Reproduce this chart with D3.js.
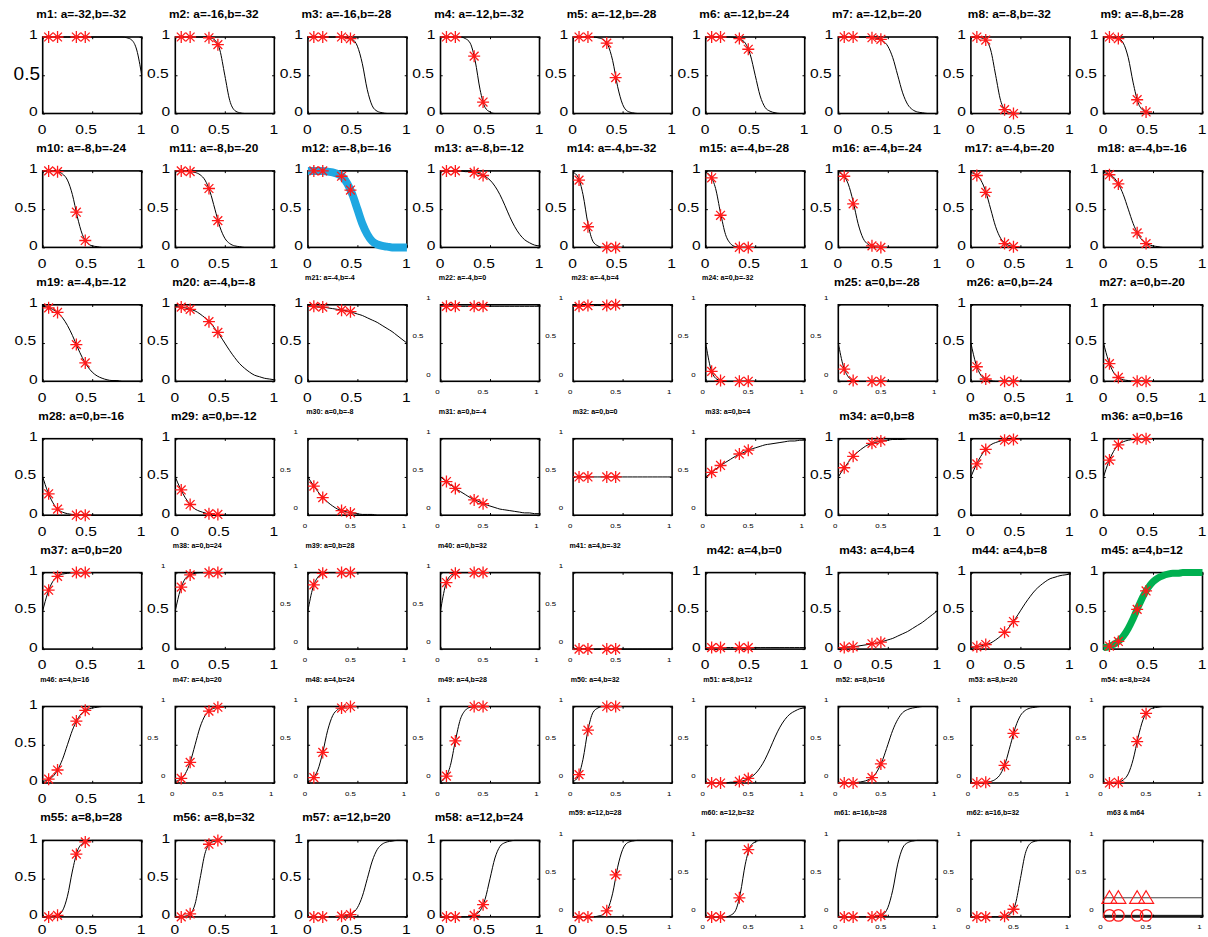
<!DOCTYPE html>
<html>
<head>
<meta charset="utf-8">
<script src="https://cdn.jsdelivr.net/npm/d3@7"></script>
<style>
  body { margin: 0; background: #fff; }
  svg { display: block; }
  text { font-family: "Liberation Sans", Arial, Helvetica, sans-serif; fill: #000; }
</style>
</head>
<body>
<svg id="chart" width="1208" height="937"></svg>
<script>
// ---- panel titles (model name and parameters) ----
const titles = [
  "m1: a=-32,b=-32","m2: a=-16,b=-32","m3: a=-16,b=-28","m4: a=-12,b=-32","m5: a=-12,b=-28","m6: a=-12,b=-24","m7: a=-12,b=-20","m8: a=-8,b=-32","m9: a=-8,b=-28",
  "m10: a=-8,b=-24","m11: a=-8,b=-20","m12: a=-8,b=-16","m13: a=-8,b=-12","m14: a=-4,b=-32","m15: a=-4,b=-28","m16: a=-4,b=-24","m17: a=-4,b=-20","m18: a=-4,b=-16",
  "m19: a=-4,b=-12","m20: a=-4,b=-8","m21: a=-4,b=-4","m22: a=-4,b=0","m23: a=-4,b=4","m24: a=0,b=-32","m25: a=0,b=-28","m26: a=0,b=-24","m27: a=0,b=-20",
  "m28: a=0,b=-16","m29: a=0,b=-12","m30: a=0,b=-8","m31: a=0,b=-4","m32: a=0,b=0","m33: a=0,b=4","m34: a=0,b=8","m35: a=0,b=12","m36: a=0,b=16",
  "m37: a=0,b=20","m38: a=0,b=24","m39: a=0,b=28","m40: a=0,b=32","m41: a=4,b=-32","m42: a=4,b=0","m43: a=4,b=4","m44: a=4,b=8","m45: a=4,b=12",
  "m46: a=4,b=16","m47: a=4,b=20","m48: a=4,b=24","m49: a=4,b=28","m50: a=4,b=32","m51: a=8,b=12","m52: a=8,b=16","m53: a=8,b=20","m54: a=8,b=24",
  "m55: a=8,b=28","m56: a=8,b=32","m57: a=12,b=20","m58: a=12,b=24","m59: a=12,b=28","m60: a=12,b=32","m61: a=16,b=28","m62: a=16,b=32","m63 & m64"
];

// ---- x positions where each curve is sampled ----
const gridX = [0,.05,.1,.15,.2,.25,.3,.35,.4,.45,.5,.55,.6,.65,.7,.75,.8,.85,.9,.95,1];

// ---- curve heights at gridX, one row per model m1..m62 ----
const curveY = [
  [1,1,1,1,1,1,1,1,1,1,1,1,1,1,1,1,1,.99,.96,.83,.5],
  [1,1,1,1,1,1,1,.99,.96,.83,.5,.17,.04,.01,0,0,0,0,0,0,0],
  [1,1,1,1,1,1,1,1,.99,.97,.88,.65,.31,.10,.03,.01,0,0,0,0,0],
  [1,1,1,1,1,.98,.92,.69,.31,.08,.02,0,0,0,0,0,0,0,0,0,0],
  [1,1,1,1,1,.99,.97,.90,.69,.35,.12,.03,.01,0,0,0,0,0,0,0,0],
  [1,1,1,1,1,1,.99,.97,.92,.77,.5,.23,.08,.03,.01,0,0,0,0,0,0],
  [1,1,1,1,1,1,1,.99,.98,.95,.88,.73,.5,.27,.12,.05,.02,.01,0,0,0],
  [1,1,.99,.96,.83,.5,.17,.04,.01,0,0,0,0,0,0,0,0,0,0,0,0],
  [1,1,.99,.98,.92,.73,.40,.14,.04,.01,0,0,0,0,0,0,0,0,0,0,0],
  [1,1,1,.99,.96,.88,.69,.40,.17,.06,.02,.01,0,0,0,0,0,0,0,0,0],
  [1,1,1,.99,.98,.95,.88,.73,.5,.27,.12,.05,.02,.01,0,0,0,0,0,0,0],
  [1,1,1,1,.99,.98,.96,.92,.83,.69,.5,.31,.17,.08,.04,.02,.01,0,0,0,0],
  [1,1,1,1,1,.99,.99,.98,.96,.93,.88,.80,.69,.55,.40,.27,.17,.10,.06,.03,.02],
  [.98,.92,.69,.31,.08,.02,0,0,0,0,0,0,0,0,0,0,0,0,0,0,0],
  [.98,.93,.77,.45,.17,.05,.01,0,0,0,0,0,0,0,0,0,0,0,0,0,0],
  [.98,.94,.83,.60,.31,.12,.04,.01,0,0,0,0,0,0,0,0,0,0,0,0,0],
  [.98,.95,.88,.73,.5,.27,.12,.05,.02,.01,0,0,0,0,0,0,0,0,0,0,0],
  [.98,.96,.92,.83,.69,.5,.31,.17,.08,.04,.02,.01,0,0,0,0,0,0,0,0,0],
  [.98,.97,.94,.90,.83,.73,.60,.45,.31,.20,.12,.07,.04,.02,.01,.01,0,0,0,0,0],
  [.98,.97,.96,.94,.92,.88,.83,.77,.69,.60,.5,.40,.31,.23,.17,.12,.08,.06,.04,.03,.02],
  [.98,.98,.97,.97,.96,.95,.94,.93,.92,.90,.88,.86,.83,.80,.77,.73,.69,.65,.60,.55,.5],
  [.98,.98,.98,.98,.98,.98,.98,.98,.98,.98,.98,.98,.98,.98,.98,.98,.98,.98,.98,.98,.98],
  [.98,.99,.99,.99,.99,.99,.99,1,1,1,1,1,1,1,1,1,1,1,1,1,1],
  [.5,.17,.04,.01,0,0,0,0,0,0,0,0,0,0,0,0,0,0,0,0,0],
  [.5,.20,.06,.01,0,0,0,0,0,0,0,0,0,0,0,0,0,0,0,0,0],
  [.5,.23,.08,.03,.01,0,0,0,0,0,0,0,0,0,0,0,0,0,0,0,0],
  [.5,.27,.12,.05,.02,.01,0,0,0,0,0,0,0,0,0,0,0,0,0,0,0],
  [.5,.31,.17,.08,.04,.02,.01,0,0,0,0,0,0,0,0,0,0,0,0,0,0],
  [.5,.35,.23,.14,.08,.05,.03,.01,.01,0,0,0,0,0,0,0,0,0,0,0,0],
  [.5,.40,.31,.23,.17,.12,.08,.06,.04,.03,.02,.01,.01,.01,0,0,0,0,0,0,0],
  [.5,.45,.40,.35,.31,.27,.23,.20,.17,.14,.12,.10,.08,.07,.06,.05,.04,.03,.03,.02,.02],
  [.5,.5,.5,.5,.5,.5,.5,.5,.5,.5,.5,.5,.5,.5,.5,.5,.5,.5,.5,.5,.5],
  [.5,.55,.60,.65,.69,.73,.77,.80,.83,.86,.88,.90,.92,.93,.94,.95,.96,.97,.97,.98,.98],
  [.5,.60,.69,.77,.83,.88,.92,.94,.96,.97,.98,.99,.99,.99,1,1,1,1,1,1,1],
  [.5,.65,.77,.86,.92,.95,.97,.99,.99,1,1,1,1,1,1,1,1,1,1,1,1],
  [.5,.69,.83,.92,.96,.98,.99,1,1,1,1,1,1,1,1,1,1,1,1,1,1],
  [.5,.73,.88,.95,.98,.99,1,1,1,1,1,1,1,1,1,1,1,1,1,1,1],
  [.5,.77,.92,.97,.99,1,1,1,1,1,1,1,1,1,1,1,1,1,1,1,1],
  [.5,.80,.94,.99,1,1,1,1,1,1,1,1,1,1,1,1,1,1,1,1,1],
  [.5,.83,.96,.99,1,1,1,1,1,1,1,1,1,1,1,1,1,1,1,1,1],
  [.02,0,0,0,0,0,0,0,0,0,0,0,0,0,0,0,0,0,0,0,0],
  [.02,.02,.02,.02,.02,.02,.02,.02,.02,.02,.02,.02,.02,.02,.02,.02,.02,.02,.02,.02,.02],
  [.02,.02,.03,.03,.04,.05,.06,.07,.08,.10,.12,.14,.17,.20,.23,.27,.31,.35,.40,.45,.5],
  [.02,.03,.04,.06,.08,.12,.17,.23,.31,.40,.5,.60,.69,.77,.83,.88,.92,.94,.96,.97,.98],
  [.02,.03,.06,.10,.17,.27,.40,.55,.69,.80,.88,.93,.96,.98,.99,.99,1,1,1,1,1],
  [.02,.04,.08,.17,.31,.5,.69,.83,.92,.96,.98,.99,1,1,1,1,1,1,1,1,1],
  [.02,.05,.12,.27,.5,.73,.88,.95,.98,.99,1,1,1,1,1,1,1,1,1,1,1],
  [.02,.06,.17,.40,.69,.88,.96,.99,1,1,1,1,1,1,1,1,1,1,1,1,1],
  [.02,.07,.23,.55,.83,.95,.99,1,1,1,1,1,1,1,1,1,1,1,1,1,1],
  [.02,.08,.31,.69,.92,.98,1,1,1,1,1,1,1,1,1,1,1,1,1,1,1],
  [0,0,0,0,0,.01,.01,.02,.04,.07,.12,.20,.31,.45,.60,.73,.83,.90,.94,.97,.98],
  [0,0,0,0,.01,.02,.04,.08,.17,.31,.5,.69,.83,.92,.96,.98,.99,1,1,1,1],
  [0,0,0,.01,.02,.05,.12,.27,.5,.73,.88,.95,.98,.99,1,1,1,1,1,1,1],
  [0,0,0,.01,.04,.12,.31,.60,.83,.94,.98,.99,1,1,1,1,1,1,1,1,1],
  [0,0,.01,.02,.08,.27,.60,.86,.96,.99,1,1,1,1,1,1,1,1,1,1,1],
  [0,0,.01,.04,.17,.5,.83,.96,.99,1,1,1,1,1,1,1,1,1,1,1,1],
  [0,0,0,0,0,0,0,.01,.02,.05,.12,.27,.5,.73,.88,.95,.98,.99,1,1,1],
  [0,0,0,0,0,0,.01,.03,.08,.23,.5,.77,.92,.97,.99,1,1,1,1,1,1],
  [0,0,0,0,0,.01,.03,.10,.31,.65,.88,.97,.99,1,1,1,1,1,1,1,1],
  [0,0,0,0,0,.02,.08,.31,.69,.92,.98,1,1,1,1,1,1,1,1,1,1],
  [0,0,0,0,0,0,0,0,.01,.03,.12,.35,.69,.90,.97,.99,1,1,1,1,1],
  [0,0,0,0,0,0,0,.01,.04,.17,.5,.83,.96,.99,1,1,1,1,1,1,1]
];

// ---- observed points: shared x positions, heights per model m1..m62 ----
const markerX = [.06, .15, .34, .43];
const markerY = [
  [1,1,1,1],[1,1,.99,.90],[1,1,1,.98],[1,1,.75,.15],[1,1,.92,.47],[1,1,.98,.84],[1,1,.99,.97],[1,.96,.05,0],[1,.98,.18,.02],
  [1,.99,.46,.09],[1,.99,.77,.35],[1,1,.93,.75],[1,1,.98,.94],[.88,.27,0,0],[.91,.42,0,0],[.93,.57,.02,0],[.94,.72,.05,.01],[.95,.83,.19,.05],
  [.96,.90,.48,.24],[.97,.94,.78,.64],[.98,.97,.93,.91],[.98,.98,.98,.98],[.98,.99,.99,1],[.13,.01,0,0],[.16,.01,0,0],[.19,.03,0,0],[.23,.05,0,0],
  [.28,.08,0,0],[.33,.14,.02,.01],[.38,.23,.06,.03],[.44,.35,.20,.15],[.5,.5,.5,.5],[.56,.65,.80,.85],[.62,.77,.94,.97],[.67,.86,.98,.99],[.72,.92,1,1],
  [.77,.95,1,1],[.81,.97,1,1],[.84,.99,1,1],[.87,.99,1,1],[0,0,0,0],[.02,.02,.02,.02],[.02,.03,.07,.09],[.03,.06,.22,.36],[.04,.10,.52,.76],
  [.05,.17,.81,.95],[.06,.27,.94,.99],[.07,.40,.98,1],[.09,.55,1,1],[.11,.69,1,1],[0,0,.02,.06],[0,0,.07,.25],[0,.01,.23,.65],[0,.01,.54,.91],
  [0,.02,.82,.98],[0,.04,.95,1],[0,0,.01,.03],[0,0,.02,.16],[0,0,.08,.55],[0,0,.25,.88],[0,0,0,.02],[0,0,.01,.10]
];

// ---- last panel: two flat models ----
const refLineX = [0, 1];
const m63Level = [.25, .25];
const m64Level = [.02, .02];
const m63Points = [.25, .25, .25, .25];
const m64Points = [.02, .02, .02, .02];

// ---- axis ticks ----
const tickValues = [0, .5, 1];
const tickLabels = ["0", "0.5", "1"];

// ---- text size per panel: title, y labels (1, 0.5, 0), x labels (0, 0.5, 1) ----
// L = large, S = small, H = oversized
const labelSizes = [
  "LLHLLLL","LLLLLLL","LLLLLLL","LLLLLLL","LLLLLLL","LLLLLLL","LLLLLLL","LLLLLLL","LLLLLLL",
  "LLLLLLL","LLLLLLL","LLLLLLL","LLLLLLL","LLLLLLL","LLLLLLL","LLLLLLL","LLLLLLL","LLLLLLL",
  "LLLLLLL","LLLLLLL","SLLLLLL","SSSSSSS","SSSSSSS","SSSSSSS","LSSSSSS","LLLLLLL","LLLLLLL",
  "LLLLLLL","LLLLLLL","SSSSSSS","SSSSSSS","SSSSSSS","SSSSSSS","LLLLSSL","LLLLLLL","LLLLLLL",
  "LLLLLLL","SSLLLLL","SSSSSSS","SSSSSSS","SSSSSSS","LLLLLLL","LLLLLLL","LLLLLLL","LLLLLLL",
  "SLLLLLL","SSSSSSS","SSSSSSS","SSSSSSS","SSSSSSS","SSSSSSS","SSSSSSS","SSSSSSS","SSSSSSS",
  "LLLLLLL","LLLLLLL","LLLLLLL","LLLLLLL","SSSSLLS","SSSSSSS","SSSSSSS","SSSSSSS","SSSSSSS"
];

// highlighted fits drawn as wide coloured bands
const bandStyle = { 11: { color: "#1fa7e1", width: 8 }, 44: { color: "#00b050", width: 7 } };

// ---- layout ----
const svg = d3.select("#chart");
const W = 1208, H = 937;
const nCols = 9, plotW = 99, plotH = 76.5;
const left0 = 42.7, colStep = 132.6, top0 = 37, rowStep = 133.9;
const STRETCH = 1.27;
const TITLE_STRETCH = 1.06;
const SIZE = { L: { title: 11.2, tick: 12.3 }, S: { title: 6.7, tick: 6.2 }, H: { tick: 19 } };

svg.append("rect").attr("width", W).attr("height", H).attr("fill", "#fff");

function addText(g, x, y, str, size, anchor, bold, sx) {
  g.append("text")
    .attr("transform", `translate(${x},${y}) scale(${sx},1)`)
    .attr("text-anchor", anchor)
    .style("font-size", size + "px")
    .style("font-weight", bold ? "bold" : "normal")
    .text(str);
}

function asterisk(cx, cy) {
  const r = 6, d = 4.4;
  return `M${cx - r},${cy}H${cx + r}M${cx},${cy - r}V${cy + r}` +
         `M${cx - d},${cy - d}L${cx + d},${cy + d}M${cx - d},${cy + d}L${cx + d},${cy - d}`;
}

const lineGen = d3.line().curve(d3.curveMonotoneX);

titles.forEach((title, i) => {
  const c = i % nCols, r = Math.floor(i / nCols);
  const x0 = left0 + colStep * c, y0 = top0 + rowStep * r;
  const x = d3.scaleLinear().domain([0, 1]).range([x0, x0 + plotW]);
  const y = d3.scaleLinear().domain([0, 1]).range([y0 + plotH, y0]);
  const spec = labelSizes[i];
  const g = svg.append("g");

  // title
  if (spec[0] === "L") addText(g, x0 + 38.5, y0 - 19, title, SIZE.L.title, "middle", true, TITLE_STRETCH);
  else addText(g, x0 + 22, y0 - 25, title, SIZE.S.title, "middle", true, TITLE_STRETCH);

  // inward tick marks on all four sides
  const axes = [
    [d3.axisBottom(x), `translate(0,${y0 + plotH})`],
    [d3.axisTop(x), `translate(0,${y0})`],
    [d3.axisLeft(y), `translate(${x0},0)`],
    [d3.axisRight(y), `translate(${x0 + plotW},0)`]
  ];
  axes.forEach(([ax, tr]) => {
    const a = g.append("g").attr("transform", tr)
      .call(ax.tickValues(tickValues).tickSize(-2.2).tickSizeOuter(0).tickFormat(""));
    a.select(".domain").remove();
    a.selectAll("line").attr("stroke", "#000").attr("stroke-width", 1);
  });

  // y tick labels (order 1, 0.5, 0)
  [1, .5, 0].forEach((v, k) => {
    const s = spec[1 + k];
    const lab = tickLabels[tickValues.indexOf(v)];
    if (s === "L") addText(g, x0 - (v === .5 ? 6.5 : 5), y(v) + 2.4, lab, SIZE.L.tick, "end", false, STRETCH);
    else if (s === "H") addText(g, x0 - 2.7, y(v) + 5, lab, SIZE.H.tick, "end", false, 1);
    else addText(g, x0 - (v === .5 ? 17 : 10), y(v) - 4.8, lab, SIZE.S.tick, "end", false, STRETCH);
  });

  // x tick labels (order 0, 0.5, 1); kept inside the bottom edge of the page
  const largeBase = Math.min(y0 + plotH + 20.3, H - 3.2);
  [0, .5, 1].forEach((v, k) => {
    const s = spec[4 + k];
    const lab = tickLabels[tickValues.indexOf(v)];
    if (s === "L") addText(g, x(v) + (v === .5 ? -6 : -0.5), largeBase, lab, SIZE.L.tick, "middle", false, STRETCH);
    else addText(g, x(v) + (v === .5 ? -7 : -3), y0 + plotH + 12.5, lab, SIZE.S.tick, "middle", false, STRETCH);
  });

  // plot box
  g.append("rect").attr("x", x0).attr("y", y0).attr("width", plotW).attr("height", plotH)
    .attr("fill", "none").attr("stroke", "#000").attr("stroke-width", 1.6);

  if (i < curveY.length) {
    const pts = gridX.map((gx, k) => [x(gx), y(curveY[i][k])]);
    g.append("path").attr("d", lineGen(pts)).attr("fill", "none")
      .attr("stroke", "#000").attr("stroke-width", 1);
    if (bandStyle[i]) {
      g.append("path").attr("d", lineGen(pts)).attr("fill", "none")
        .attr("stroke", bandStyle[i].color).attr("stroke-width", bandStyle[i].width)
        .attr("stroke-linejoin", "round");
    }
    g.selectAll("path.pt").data(markerX).join("path").attr("class", "pt")
      .attr("d", (mx, k) => asterisk(x(mx), y(markerY[i][k])))
      .attr("fill", "none").attr("stroke", "#ff1a1a").attr("stroke-width", 1.3);
  } else {
    // flat reference models
    g.append("path").attr("d", d3.line()(refLineX.map((lx, k) => [x(lx), y(m63Level[k])])))
      .attr("stroke", "#444").attr("stroke-width", 1).attr("fill", "none");
    g.append("path").attr("d", d3.line()(refLineX.map((lx, k) => [x(lx), y(m64Level[k])])))
      .attr("stroke", "#000").attr("stroke-width", 1).attr("fill", "none");
    g.selectAll("path.tri").data(markerX).join("path").attr("class", "tri")
      .attr("d", (mx, k) => {
        const cx = x(mx), cy = y(m63Points[k]);
        return `M${cx},${cy - 7}L${cx + 7.5},${cy + 5.5}L${cx - 7.5},${cy + 5.5}Z`;
      })
      .attr("fill", "none").attr("stroke", "#ff1a1a").attr("stroke-width", 1.2);
    g.selectAll("circle.cir").data(markerX).join("circle").attr("class", "cir")
      .attr("cx", mx => x(mx)).attr("cy", (mx, k) => y(m64Points[k])).attr("r", 5.8)
      .attr("fill", "none").attr("stroke", "#ff1a1a").attr("stroke-width", 1.2);
  }
});
</script>
</body>
</html>
